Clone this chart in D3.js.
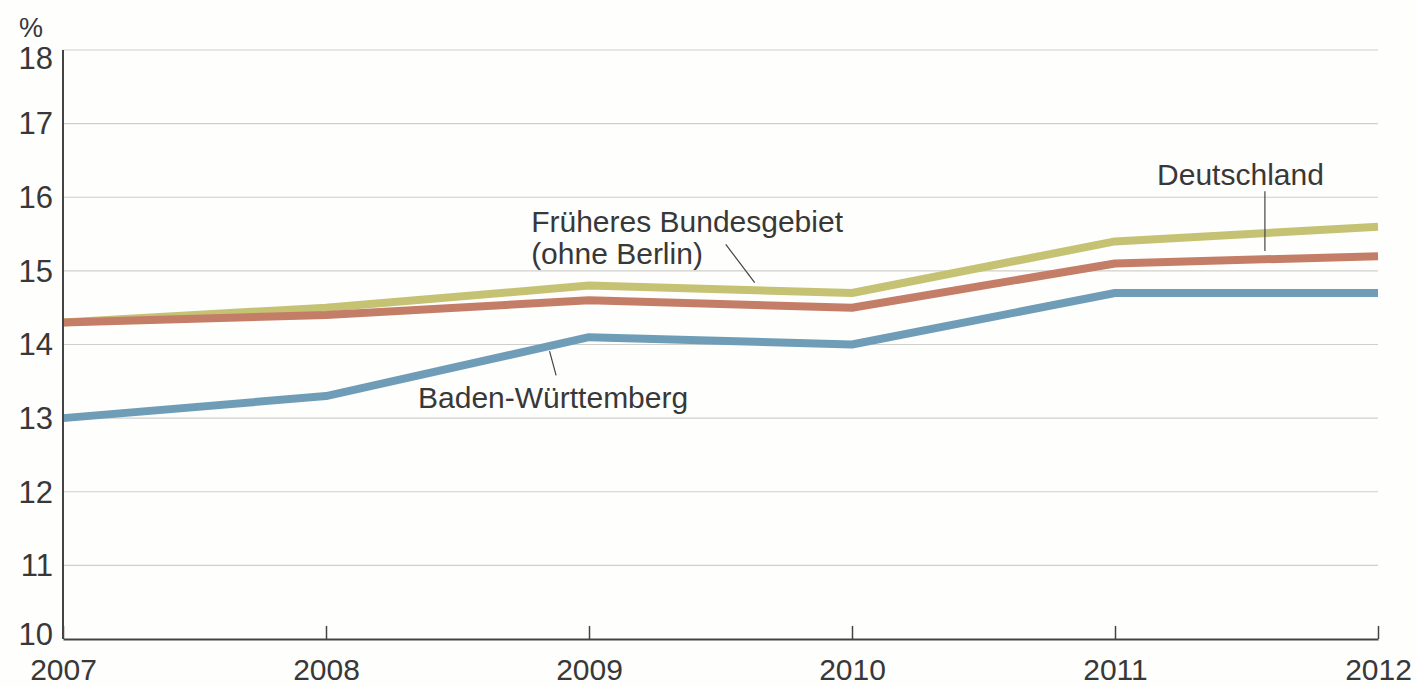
<!DOCTYPE html>
<html>
<head>
<meta charset="utf-8">
<script src="https://cdn.jsdelivr.net/npm/d3@7"></script>
<style>
  html, body { margin: 0; padding: 0; background: #fefefc; }
  svg { display: block; }
  text { font-family: "Liberation Sans", Arial, sans-serif; fill: #383838; }
</style>
</head>
<body>
<svg id="chart" width="1415" height="686"></svg>
<script>
// Anteil in Prozent, 2007–2012
const years = [2007, 2008, 2009, 2010, 2011, 2012];
const frueheresBundesgebiet = [14.3, 14.5, 14.8, 14.7, 15.4, 15.6];
const deutschland = [14.3, 14.4, 14.6, 14.5, 15.1, 15.2];
const badenWuerttemberg = [13.0, 13.3, 14.1, 14.0, 14.7, 14.7];
const yTicks = [10, 11, 12, 13, 14, 15, 16, 17, 18];

const seriesList = [
  { name: "Früheres Bundesgebiet", values: frueheresBundesgebiet, color: "#c6c274" },
  { name: "Deutschland", values: deutschland, color: "#c47e68" },
  { name: "Baden-Württemberg", values: badenWuerttemberg, color: "#6f9db7" }
];

// Beschriftungen in Datenkoordinaten (Jahr, Prozent)
const annotations = [
  { lines: ["Deutschland"], at: [2011.16, 16.16], leader: [[2011.57, 16.08], [2011.57, 15.27]] },
  { lines: ["Früheres Bundesgebiet", "(ohne Berlin)"], at: [2008.78, 15.53], leader: [[2009.52, 15.36], [2009.63, 14.84]] },
  { lines: ["Baden-Württemberg"], at: [2008.35, 13.14], leader: [[2008.85, 13.91], [2008.875, 13.58]] }
];

const svg = d3.select("#chart");
const plotLeft = 63, plotRight = 1378, plotTop = 50, plotBottom = 639;

const x = d3.scaleLinear().domain([2007, 2012]).range([plotLeft, plotRight]);
const y = d3.scaleLinear().domain([10, 18]).range([plotBottom, plotTop]);

// Gitterlinien
svg.append("g")
  .selectAll("line")
  .data(yTicks.filter(d => d > 10))
  .join("line")
  .attr("x1", plotLeft).attr("x2", plotRight)
  .attr("y1", d => y(d)).attr("y2", d => y(d))
  .attr("stroke", "#cfcfcd").attr("stroke-width", 1.2);

// Y-Achse Beschriftungen
svg.append("g")
  .selectAll("text")
  .data(yTicks)
  .join("text")
  .attr("x", 53)
  .attr("y", d => y(d) + (d === 18 ? 8 : d === 10 ? -5 : 0))
  .attr("dy", "0.35em")
  .attr("text-anchor", "end")
  .attr("font-size", 31)
  .text(d => d);

svg.append("text")
  .attr("x", 19).attr("y", 37)
  .attr("font-size", 27)
  .text("%");

// Linien
const line = d3.line()
  .x((d, i) => x(years[i]))
  .y(d => y(d));

svg.append("g")
  .selectAll("path")
  .data(seriesList)
  .join("path")
  .attr("d", s => line(s.values))
  .attr("fill", "none")
  .attr("stroke", s => s.color)
  .attr("stroke-width", 8)
  .attr("stroke-linejoin", "round");

// Achsen
svg.append("line")
  .attr("x1", plotLeft).attr("x2", plotLeft)
  .attr("y1", plotTop).attr("y2", plotBottom)
  .attr("stroke", "#444").attr("stroke-width", 2);

const xAxis = d3.axisBottom(x)
  .tickValues(years)
  .tickFormat(d3.format("d"))
  .tickSizeInner(-13)
  .tickSizeOuter(0)
  .tickPadding(19);

const gx = svg.append("g")
  .attr("transform", `translate(0,${plotBottom})`)
  .call(xAxis);
gx.select(".domain").attr("stroke", "#444").attr("stroke-width", 2.2);
gx.selectAll(".tick line").attr("stroke", "#444").attr("stroke-width", 1.5);
gx.selectAll(".tick text")
  .attr("font-size", 30)
  .attr("font-family", "Liberation Sans, Arial, sans-serif")
  .attr("fill", "#383838")
  .attr("dy", "0.72em");

// Beschriftungen mit Hinweislinien
annotations.forEach(a => {
  svg.append("line")
    .attr("x1", x(a.leader[0][0])).attr("y1", y(a.leader[0][1]))
    .attr("x2", x(a.leader[1][0])).attr("y2", y(a.leader[1][1]))
    .attr("stroke", "#444").attr("stroke-width", 1.2);
  a.lines.forEach((l, i) => {
    svg.append("text")
      .attr("x", x(a.at[0]))
      .attr("y", y(a.at[1]) + i * 32)
      .attr("font-size", 30)
      .text(l);
  });
});
</script>
</body>
</html>
